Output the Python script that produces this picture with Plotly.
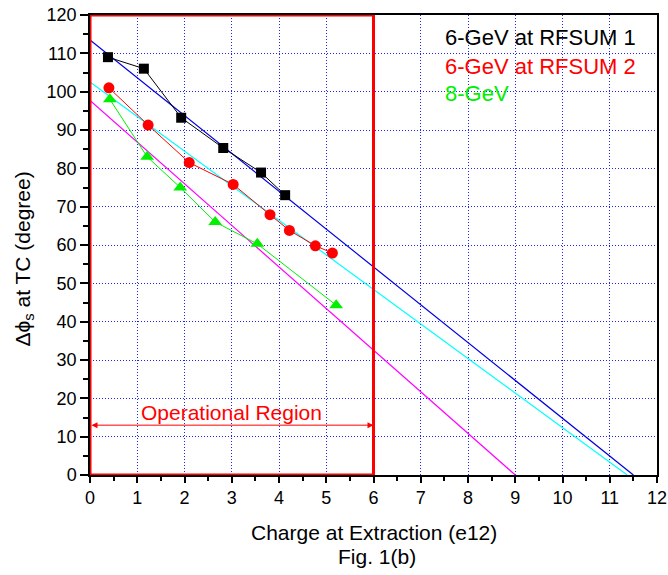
import plotly.graph_objects as go

# Data
rf1_x = [0.38, 1.14, 1.93, 2.82, 3.62, 4.13]
rf1_y = [109, 106, 93.2, 85.3, 78.9, 73]
rf2_x = [0.40, 1.23, 2.10, 3.03, 3.81, 4.22, 4.77, 5.13]
rf2_y = [101, 91.3, 81.5, 75.8, 67.9, 63.8, 59.8, 57.9]
g8_x = [0.42, 1.21, 1.91, 2.65, 3.54, 5.21]
g8_y = [98, 83, 75, 66, 60.3, 44.3]
fit1_x = [0, 11.5]
fit1_y = [113.5, 0]
fit2_x = [0, 11.37]
fit2_y = [102.5, 0]
fit3_x = [0, 9.0]
fit3_y = [97.7, 0]
legend_names = ["6-GeV at RFSUM 1", "6-GeV at RFSUM 2", "8-GeV"]
x_ticks = list(range(0, 13))
y_ticks = list(range(0, 121, 10))
op_region = [0, 6]

FONT = "Liberation Sans, Arial, sans-serif"
GREEN = "#00F000"

fig = go.Figure()
fig.add_trace(go.Scatter(x=fit1_x, y=fit1_y, mode="lines", line=dict(color="#0000E0", width=1.2), showlegend=False))
fig.add_trace(go.Scatter(x=fit2_x, y=fit2_y, mode="lines", line=dict(color="#00FFFF", width=1.2), showlegend=False))
fig.add_trace(go.Scatter(x=fit3_x, y=fit3_y, mode="lines", line=dict(color="#FF00FF", width=1.2), showlegend=False))
fig.add_trace(go.Scatter(x=rf1_x, y=rf1_y, mode="lines+markers", line=dict(color="black", width=1),
                         marker=dict(symbol="square", size=10, color="black"), showlegend=False))
fig.add_trace(go.Scatter(x=rf2_x, y=rf2_y, mode="lines+markers", line=dict(color="red", width=1),
                         marker=dict(symbol="circle", size=11, color="red"), showlegend=False))
fig.add_trace(go.Scatter(x=g8_x, y=g8_y, mode="lines+markers", line=dict(color=GREEN, width=1),
                         marker=dict(symbol="triangle-up", size=12, color=GREEN), showlegend=False))

# Operational region rectangle
fig.add_shape(type="rect", x0=op_region[0], x1=op_region[1], y0=0, y1=120, xref="x", yref="y",
              line=dict(color="red", width=3), layer="above")

# Double arrow
fig.add_annotation(x=op_region[1], y=13, ax=op_region[0], ay=13, xref="x", yref="y", axref="x", ayref="y",
                   text="", showarrow=True, arrowhead=2, arrowside="end+start", arrowsize=1.2,
                   arrowwidth=1, arrowcolor="red")
fig.add_annotation(x=3.0, y=16.2, xref="x", yref="y", text="Operational Region", showarrow=False,
                   font=dict(family=FONT, size=21, color="red"), xanchor="center", yanchor="middle")

# Legend as text
leg_colors = ["black", "red", GREEN]
leg_y = [0.952, 0.889, 0.830]
for name, c, yy in zip(legend_names, leg_colors, leg_y):
    fig.add_annotation(x=0.622, y=yy, xref="paper", yref="paper", text=name, showarrow=False,
                       font=dict(family=FONT, size=22, color=c), xanchor="left", yanchor="middle")

# Axis titles
fig.add_annotation(x=0.5, y=-0.125, xref="paper", yref="paper", text="Charge at Extraction (e12)",
                   showarrow=False, font=dict(family=FONT, size=21, color="black"), xanchor="center", yanchor="middle")
fig.add_annotation(x=0.507, y=-0.178, xref="paper", yref="paper", text="Fig. 1(b)",
                   showarrow=False, font=dict(family=FONT, size=21, color="black"), xanchor="center", yanchor="middle")
fig.add_annotation(x=-0.117, y=0.47, xref="paper", yref="paper",
                   text="Δϕ<sub>s</sub> at TC (degree)", textangle=-90,
                   showarrow=False, font=dict(family=FONT, size=21, color="black"), xanchor="center", yanchor="middle")

axis_common = dict(showline=True, linecolor="black", linewidth=1.5, mirror=True, automargin=False,
                   ticks="outside", tickcolor="black", tickwidth=1.5,
                   showgrid=True, gridcolor="#2020FF", griddash="1px,2px", gridwidth=1,
                   zeroline=False, tickfont=dict(family=FONT, size=18, color="black"))

fig.update_xaxes(range=[0, 12], tickvals=x_ticks, ticklen=6,
                 minor=dict(ticks="outside", dtick=0.5, ticklen=4, tickcolor="black", showgrid=False),
                 **axis_common)
fig.update_yaxes(range=[0, 120], tickvals=y_ticks, ticklen=8,
                 minor=dict(ticks="outside", dtick=5, ticklen=5, tickcolor="black", showgrid=False),
                 **axis_common)

fig.update_layout(width=668, height=575, margin=dict(l=90, r=11, t=15, b=100),
                  plot_bgcolor="white", paper_bgcolor="white", showlegend=False,
                  font=dict(family=FONT))

fig.write_html("out.html")
